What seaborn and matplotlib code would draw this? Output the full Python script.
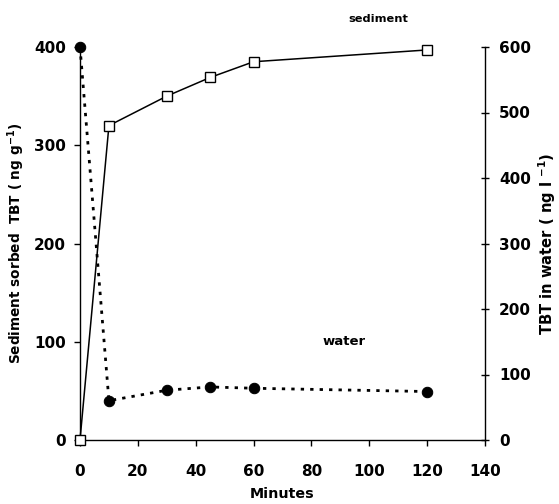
import matplotlib
matplotlib.use("Agg")
import matplotlib.pyplot as plt
import seaborn as sns
import pandas as pd

minutes = [0, 10, 30, 45, 60, 120]
sediment = [0, 320, 350, 369, 385, 397]
water = [600, 60, 76, 81, 79, 74]
x_ticks = [0, 20, 40, 60, 80, 100, 120, 140]
left_ticks = [0, 100, 200, 300, 400]
right_ticks = [0, 100, 200, 300, 400, 500, 600]

sns.set_style("ticks")
plt.rcParams['font.family'] = ['DejaVu Sans']
plt.rcParams['font.weight'] = 'bold'
plt.rcParams['text.color'] = 'black'
plt.rcParams['axes.labelcolor'] = 'black'
plt.rcParams['mathtext.fontset'] = 'custom'
plt.rcParams['mathtext.rm'] = 'DejaVu Sans:bold'
plt.rcParams['mathtext.default'] = 'rm'

df = pd.DataFrame({"Minutes": minutes, "sediment": sediment, "water": water})

fig = plt.figure(figsize=(5.59, 5.04), dpi=100)
ax = fig.add_axes([80/559, 1 - 440/504, 405/559, 393/504])
ax2 = ax.twinx()

sns.lineplot(data=df, x="Minutes", y="sediment", ax=ax, color="black", lw=1.1,
             marker="s", markersize=7.5, markerfacecolor="white",
             markeredgecolor="black", markeredgewidth=1.0, clip_on=False, zorder=5)
sns.lineplot(data=df, x="Minutes", y="water", ax=ax2, color="black", lw=2.0,
             linestyle=(0, (1.2, 2.2)), marker="o", markersize=7.5,
             markerfacecolor="black", markeredgecolor="black", clip_on=False, zorder=5)

ax.set_xlim(0, 140)
ax.set_ylim(0, 400)
ax2.set_ylim(0, 600)
ax.set_xticks(x_ticks)
ax.set_yticks(left_ticks)
ax2.set_yticks(right_ticks)

for a in (ax, ax2):
    a.spines['top'].set_visible(False)
    for s in a.spines.values():
        s.set_linewidth(1.0)
        s.set_color('black')
ax2.spines['left'].set_visible(False)
ax2.spines['bottom'].set_visible(False)
ax.spines['right'].set_visible(False)

ax.tick_params(axis='y', direction='out', length=4, width=1, labelsize=11, pad=6, colors='black')
ax.tick_params(axis='x', direction='out', length=4, width=1, labelsize=11, pad=13, colors='black')
ax2.tick_params(axis='y', direction='inout', length=6, width=1, labelsize=11, pad=7, colors='black')
for lab in ax.get_xticklabels() + ax.get_yticklabels() + ax2.get_yticklabels():
    lab.set_fontweight('bold')

ax.set_xlabel("Minutes", fontsize=10.3, fontweight='bold', labelpad=6)
ax.set_ylabel(r"Sediment sorbed  TBT ( ng g$^{-1}$)", fontsize=9.8, fontweight='bold', labelpad=5)
ax2.set_ylabel(r"TBT in water ( ng l $^{-1}$)", fontsize=10.6, fontweight='bold', labelpad=4)

ax.text(103, 428, "sediment", ha='center', va='center', fontsize=8.2, fontweight='bold', clip_on=False)
ax.text(91.3, 100, "water", ha='center', va='center', fontsize=9.5, fontweight='bold')

ax.grid(False)
ax2.grid(False)
fig.savefig("out.png", dpi=100)
